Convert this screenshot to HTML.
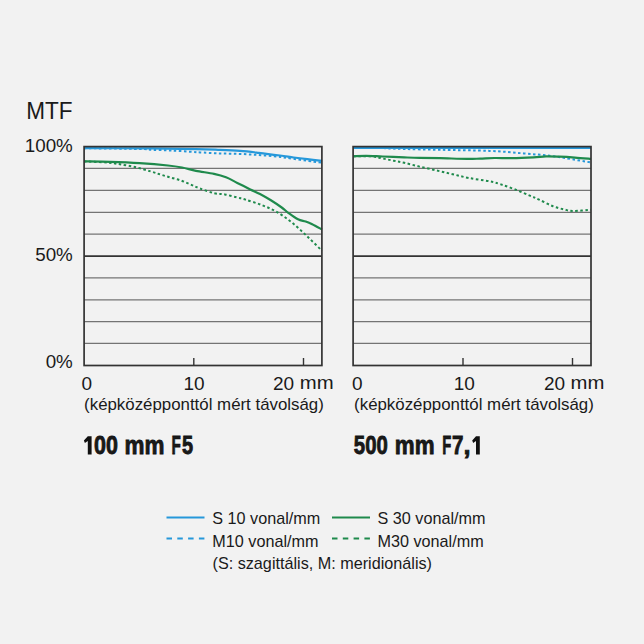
<!DOCTYPE html>
<html><head><meta charset="utf-8"><style>
html,body{margin:0;padding:0;background:#f2f2f2;}
body{width:644px;height:644px;overflow:hidden;position:relative;}
svg{position:absolute;left:0;top:0;}
text{font-family:"Liberation Sans",sans-serif;fill:#1a1a1a;}
</style></head><body>
<svg width="644" height="644" viewBox="0 0 644 644">
<text x="26.2" y="118.6" font-size="23" transform="translate(26.2 0) scale(0.98 1) translate(-26.2 0)">MTF</text>
<text x="72.8" y="151.5" font-size="18.8" text-anchor="end">100%</text>
<text x="72.8" y="261.4" font-size="18.8" text-anchor="end">50%</text>
<text x="72.8" y="368.3" font-size="18.8" text-anchor="end">0%</text>
<line x1="84.1" y1="168.40" x2="321.9" y2="168.40" stroke="#747474" stroke-width="1.2"/>
<line x1="84.1" y1="190.40" x2="321.9" y2="190.40" stroke="#747474" stroke-width="1.2"/>
<line x1="84.1" y1="212.30" x2="321.9" y2="212.30" stroke="#747474" stroke-width="1.2"/>
<line x1="84.1" y1="234.10" x2="321.9" y2="234.10" stroke="#747474" stroke-width="1.2"/>
<line x1="84.1" y1="277.90" x2="321.9" y2="277.90" stroke="#747474" stroke-width="1.2"/>
<line x1="84.1" y1="299.80" x2="321.9" y2="299.80" stroke="#747474" stroke-width="1.2"/>
<line x1="84.1" y1="321.60" x2="321.9" y2="321.60" stroke="#747474" stroke-width="1.2"/>
<line x1="84.1" y1="343.40" x2="321.9" y2="343.40" stroke="#747474" stroke-width="1.2"/>
<line x1="84.1" y1="256.2" x2="321.9" y2="256.2" stroke="#333" stroke-width="1.7"/>
<line x1="193.8" y1="358" x2="193.8" y2="365" stroke="#333" stroke-width="1.4"/>
<line x1="303.5" y1="358" x2="303.5" y2="365" stroke="#333" stroke-width="1.4"/>
<path d="M84.00 148.20 C93.33 148.33 128.67 148.73 140.00 149.00 C151.33 149.27 146.77 149.55 152.00 149.80 C157.23 150.05 164.58 150.15 171.40 150.50 C178.22 150.85 188.13 151.58 192.90 151.90 C197.67 152.22 195.62 152.15 200.00 152.40 C204.38 152.65 212.70 153.15 219.20 153.40 C225.70 153.65 232.43 153.63 239.00 153.90 C245.57 154.17 252.22 154.57 258.60 155.00 C264.98 155.43 272.57 156.02 277.30 156.50 C282.03 156.98 280.88 157.03 287.00 157.90 C293.12 158.77 308.17 160.93 314.00 161.70 C319.83 162.47 320.67 162.37 322.00 162.50" fill="none" stroke="#2698da" stroke-width="2.0" stroke-dasharray="2.5 2.5"/>
<path d="M84.00 148.10 C95.00 148.15 131.33 148.23 150.00 148.40 C168.67 148.57 184.67 148.87 196.00 149.10 C207.33 149.33 210.67 149.50 218.00 149.80 C225.33 150.10 233.23 150.40 240.00 150.90 C246.77 151.40 251.93 152.03 258.60 152.80 C265.27 153.57 274.15 154.72 280.00 155.50 C285.85 156.28 289.15 156.88 293.70 157.50 C298.25 158.12 302.58 158.65 307.30 159.20 C312.02 159.75 319.55 160.53 322.00 160.80" fill="none" stroke="#2698da" stroke-width="2.2"/>
<path d="M84.00 161.40 C88.00 161.60 102.00 162.12 108.00 162.60 C114.00 163.08 115.33 163.52 120.00 164.30 C124.67 165.08 130.80 166.08 136.00 167.30 C141.20 168.52 146.97 170.35 151.20 171.60 C155.43 172.85 158.13 173.80 161.40 174.80 C164.67 175.80 167.53 176.65 170.80 177.60 C174.07 178.55 177.75 179.38 181.00 180.50 C184.25 181.62 187.13 182.97 190.30 184.30 C193.47 185.63 196.05 187.03 200.00 188.50 C203.95 189.97 209.83 192.10 214.00 193.10 C218.17 194.10 221.12 193.77 225.00 194.50 C228.88 195.23 233.88 196.65 237.30 197.50 C240.72 198.35 241.55 198.38 245.50 199.60 C249.45 200.82 255.82 202.77 261.00 204.80 C266.18 206.83 271.42 208.82 276.60 211.80 C281.78 214.78 286.93 218.55 292.10 222.70 C297.27 226.85 302.62 232.02 307.60 236.70 C312.58 241.38 319.60 248.45 322.00 250.80" fill="none" stroke="#1f8a4c" stroke-width="2.0" stroke-dasharray="2.5 2.5"/>
<path d="M84.00 161.40 C88.33 161.48 100.73 161.60 110.00 161.90 C119.27 162.20 129.93 162.60 139.60 163.20 C149.27 163.80 160.93 164.78 168.00 165.50 C175.07 166.22 177.33 166.62 182.00 167.50 C186.67 168.38 190.67 169.73 196.00 170.80 C201.33 171.87 209.00 172.82 214.00 173.90 C219.00 174.98 222.12 175.80 226.00 177.30 C229.88 178.80 233.25 180.88 237.30 182.90 C241.35 184.92 246.52 187.55 250.30 189.40 C254.08 191.25 256.57 192.18 260.00 194.00 C263.43 195.82 267.28 198.05 270.90 200.30 C274.52 202.55 278.80 205.42 281.70 207.50 C284.60 209.58 285.58 210.83 288.30 212.80 C291.02 214.77 295.10 217.85 298.00 219.30 C300.90 220.75 303.33 220.68 305.70 221.50 C308.07 222.32 309.48 222.87 312.20 224.20 C314.92 225.53 320.37 228.62 322.00 229.50" fill="none" stroke="#1f8a4c" stroke-width="2.2"/>
<rect x="84.1" y="146.6" width="237.8" height="218.9" fill="none" stroke="#333" stroke-width="1.7"/>
<line x1="353.1" y1="168.40" x2="591.0" y2="168.40" stroke="#747474" stroke-width="1.2"/>
<line x1="353.1" y1="190.40" x2="591.0" y2="190.40" stroke="#747474" stroke-width="1.2"/>
<line x1="353.1" y1="212.30" x2="591.0" y2="212.30" stroke="#747474" stroke-width="1.2"/>
<line x1="353.1" y1="234.10" x2="591.0" y2="234.10" stroke="#747474" stroke-width="1.2"/>
<line x1="353.1" y1="277.90" x2="591.0" y2="277.90" stroke="#747474" stroke-width="1.2"/>
<line x1="353.1" y1="299.80" x2="591.0" y2="299.80" stroke="#747474" stroke-width="1.2"/>
<line x1="353.1" y1="321.60" x2="591.0" y2="321.60" stroke="#747474" stroke-width="1.2"/>
<line x1="353.1" y1="343.40" x2="591.0" y2="343.40" stroke="#747474" stroke-width="1.2"/>
<line x1="353.1" y1="256.2" x2="591.0" y2="256.2" stroke="#333" stroke-width="1.7"/>
<line x1="463.0" y1="358" x2="463.0" y2="365" stroke="#333" stroke-width="1.4"/>
<line x1="572.5" y1="358" x2="572.5" y2="365" stroke="#333" stroke-width="1.4"/>
<path d="M353.10 147.40 C357.58 147.50 371.47 147.73 380.00 148.00 C388.53 148.27 394.30 148.70 404.30 149.00 C414.30 149.30 425.78 149.48 440.00 149.80 C454.22 150.12 475.83 150.32 489.60 150.90 C503.37 151.48 512.57 152.48 522.60 153.30 C532.63 154.12 542.77 155.02 549.80 155.80 C556.83 156.58 557.93 156.88 564.80 158.00 C571.67 159.12 586.63 161.75 591.00 162.50" fill="none" stroke="#2698da" stroke-width="2.0" stroke-dasharray="2.5 2.5"/>
<path d="M353.10 147.90 C392.75 147.90 551.35 147.90 591.00 147.90" fill="none" stroke="#2698da" stroke-width="2.2"/>
<path d="M353.50 156.30 C356.53 156.30 366.85 155.93 371.70 156.30 C376.55 156.67 378.97 157.77 382.60 158.50 C386.23 159.23 389.88 159.98 393.50 160.70 C397.12 161.42 399.95 161.82 404.30 162.80 C408.65 163.78 414.27 165.33 419.60 166.60 C424.93 167.87 430.80 169.13 436.30 170.40 C441.80 171.67 447.17 172.93 452.60 174.20 C458.03 175.47 462.73 176.82 468.90 178.00 C475.07 179.18 484.27 180.23 489.60 181.30 C494.93 182.37 496.63 183.03 500.90 184.40 C505.17 185.77 510.38 187.63 515.20 189.50 C520.02 191.37 525.83 193.92 529.80 195.60 C533.77 197.28 535.23 197.87 539.00 199.60 C542.77 201.33 548.10 204.33 552.40 206.00 C556.70 207.67 561.28 208.77 564.80 209.60 C568.32 210.43 569.13 210.97 573.50 211.00 C577.87 211.03 588.08 210.00 591.00 209.80" fill="none" stroke="#1f8a4c" stroke-width="2.0" stroke-dasharray="2.5 2.5"/>
<path d="M353.50 156.30 C355.63 156.22 361.45 155.77 366.30 155.80 C371.15 155.83 376.27 156.23 382.60 156.50 C388.93 156.77 398.13 157.17 404.30 157.40 C410.47 157.63 413.65 157.77 419.60 157.90 C425.55 158.03 432.10 158.03 440.00 158.20 C447.90 158.37 460.33 158.83 467.00 158.90 C473.67 158.97 475.40 158.75 480.00 158.60 C484.60 158.45 489.32 158.08 494.60 158.00 C499.88 157.92 505.22 158.22 511.70 158.10 C518.18 157.98 527.78 157.58 533.50 157.30 C539.22 157.02 541.68 156.50 546.00 156.40 C550.32 156.30 554.57 156.50 559.40 156.70 C564.23 156.90 569.73 157.23 575.00 157.60 C580.27 157.97 588.33 158.68 591.00 158.90" fill="none" stroke="#1f8a4c" stroke-width="2.2"/>
<rect x="353.1" y="146.6" width="237.9" height="218.9" fill="none" stroke="#333" stroke-width="1.7"/>
<g font-size="19">
<text x="81.5" y="389.5">0</text>
<text x="194" y="389.5" text-anchor="middle">10</text>
<text x="273" y="389.5">20</text><text x="0" y="389.5" transform="translate(299.8 0) scale(1.07 1)">mm</text>
<text x="352" y="389.5">0</text>
<text x="464.2" y="389.5" text-anchor="middle">10</text>
<text x="544" y="389.5">20</text><text x="0" y="389.5" transform="translate(570.6 0) scale(1.07 1)">mm</text>
</g>
<g font-size="16">
<text x="0" y="410.2" transform="translate(84.1 0) scale(1.054 1)">(képközépponttól mért távolság)</text>
<text x="0" y="410.2" transform="translate(354.1 0) scale(1.054 1)">(képközépponttól mért távolság)</text>
</g>
<g font-size="25.4" font-weight="bold" stroke="#111" stroke-width="0.8">
<text x="0" y="454.4" transform="translate(94.05 0) scale(0.845 1)">00</text>
<text x="0" y="454.4" transform="translate(124.60 0) scale(0.884 1)">mm</text>
<text x="0" y="454.4" transform="translate(171.60 0) scale(0.600 1)">F</text>
<text x="0" y="454.4" transform="translate(182.00 0) scale(0.785 1)">5</text>
<text x="0" y="454.4" transform="translate(353.80 0) scale(0.802 1)">500</text>
<text x="0" y="454.4" transform="translate(394.80 0) scale(0.881 1)">mm</text>
<text x="0" y="454.4" transform="translate(442.20 0) scale(0.580 1)">F</text>
<text x="0" y="454.4" transform="translate(452.10 0) scale(0.810 1)">7</text>
<text x="0" y="454.4" transform="translate(463.50 0) scale(1.000 1)">,</text>
</g>
<path d="M87.8 436.2 L91.6 436.2 L91.6 454.6 L87.8 454.6 L87.8 441.0 L84.9 443.0 L83.9 440.5 Z" fill="#111"/>
<path d="M476.0 436.3 L479.8 436.3 L479.8 454.6 L476.0 454.6 L476.0 441.1 L473.2 443.1 L472.2 440.6 Z" fill="#111"/>

<line x1="166.5" y1="517.5" x2="204.5" y2="517.5" stroke="#2698da" stroke-width="2"/>
<line x1="166.5" y1="538.5" x2="204.5" y2="538.5" stroke="#2698da" stroke-width="2" stroke-dasharray="5.5 5.3"/>
<line x1="332" y1="517.5" x2="370" y2="517.5" stroke="#1f8a4c" stroke-width="2"/>
<line x1="332" y1="538.5" x2="370" y2="538.5" stroke="#1f8a4c" stroke-width="2" stroke-dasharray="5.5 5.3"/>
<g font-size="16.2">
<text x="212.3" y="524.3">S 10 vonal/mm</text>
<text x="212.3" y="546.6">M10 vonal/mm</text>
<text x="377.5" y="524.3">S 30 vonal/mm</text>
<text x="377.5" y="546.6">M30 vonal/mm</text>
<text x="212.5" y="569">(S: szagittális, M: meridionális)</text>
</g>
</svg>
</body></html>
